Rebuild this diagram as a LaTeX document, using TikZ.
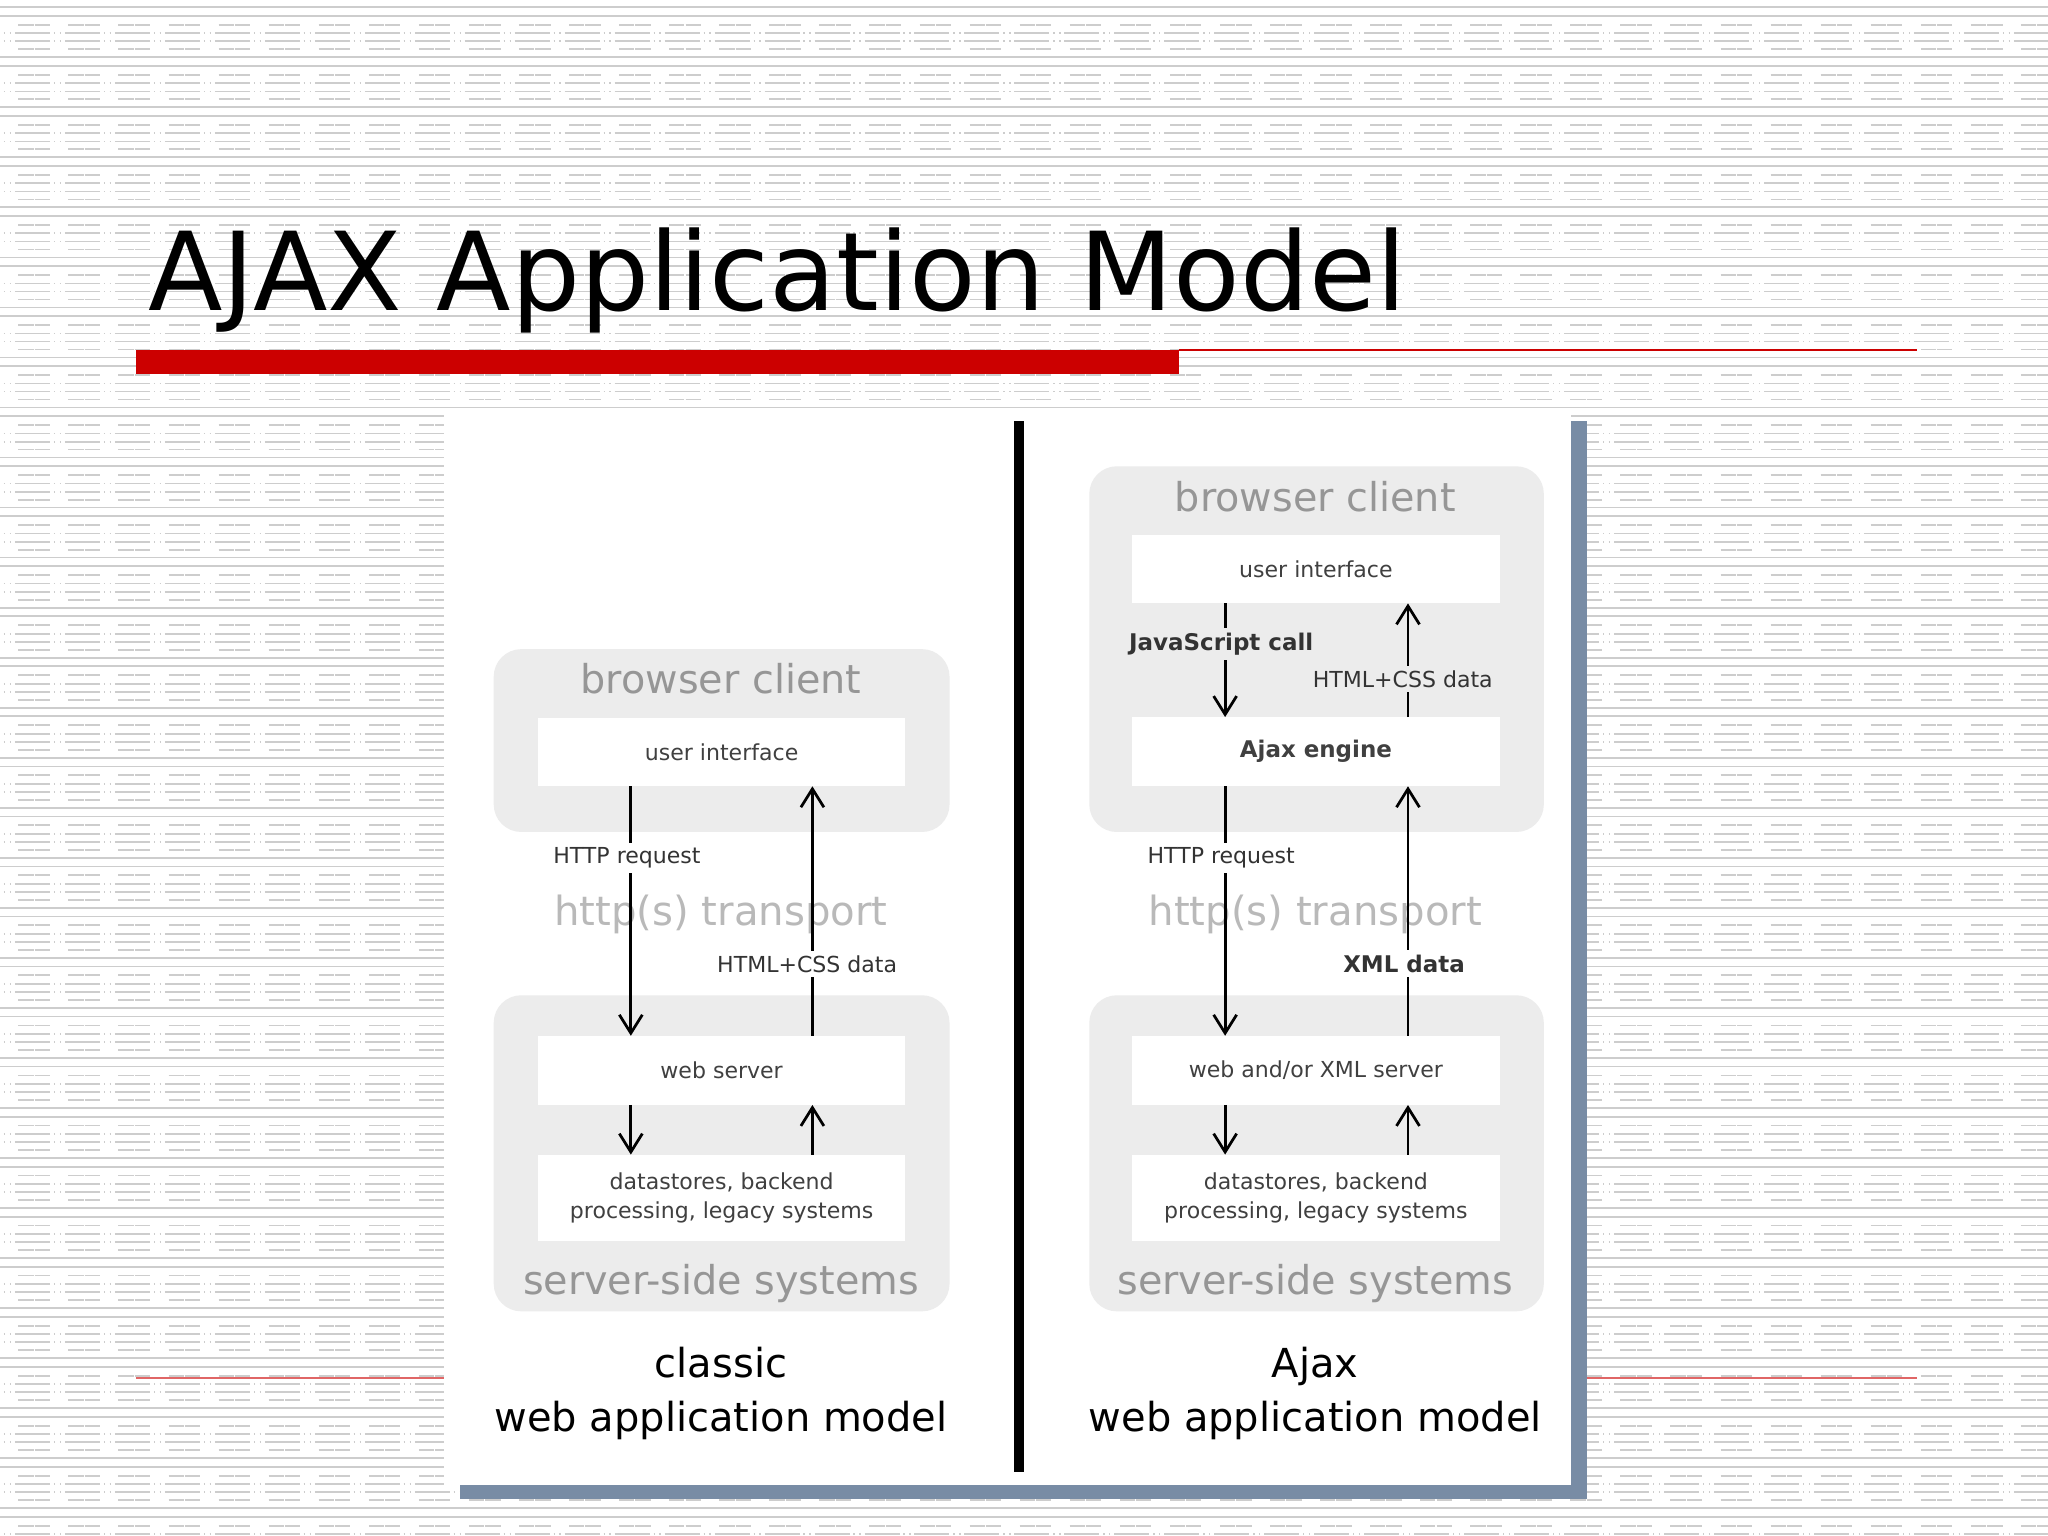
\documentclass[tikz,border=0pt]{standalone}
\usepackage{fontspec}
\setmainfont{DejaVu Sans}
\usetikzlibrary{arrows.meta}
\definecolor{pat}{RGB}{205,205,205}
\definecolor{boxg}{RGB}{236,236,236}
\definecolor{tg}{RGB}{150,150,150}
\definecolor{tlg}{RGB}{185,185,185}
\definecolor{redb}{RGB}{204,0,0}
\definecolor{blueb}{RGB}{120,140,165}
\tikzset{
  solidl/.style={pat,line width=0.4pt},
  dashl/.style={pat,line width=0.4pt,dash pattern=on 3.33pt off 0.23pt on 3.33pt off 4.01pt},
  dotl/.style={pat,line width=0.4pt,dash pattern=on 7.62pt off 0.85pt on 0.28pt off 1.0pt on 0.28pt off 0.85pt},
  grp/.style={fill=boxg,rounded corners=6pt},
  wbox/.style={fill=white,draw=none,minimum width=2.81cm,inner sep=0pt,font=\fontsize{4.8}{6.4}\selectfont,text=black!75,align=center},
  gtitle/.style={text=tg,font=\fontsize{8.65}{10}\selectfont},
  ttitle/.style={text=tlg,font=\fontsize{8.75}{10}\selectfont},
  lbl/.style={font=\fontsize{4.8}{6}\selectfont,text=black!80,inner sep=1pt},
  arr/.style={line width=0.6pt,-{Straight Barb[length=4pt,width=5pt]}},
  captxt/.style={font=\fontsize{8.7}{11.8}\selectfont,align=center,text=black}
}
\begin{document}
\begin{tikzpicture}[x=0.01cm,y=-0.01cm]
\useasboundingbox (0,0) rectangle (1568,1176);
\fill[white] (0,0) rectangle (1568,1176);
\foreach \k in {-1,...,31}{
  \pgfmathsetmacro\yy{\k*38.3}
  \draw[solidl] (0,\yy+5.6) -- (1568,\yy+5.6);
  \draw[solidl] (0,\yy+12.3) -- (1568,\yy+12.3);
  \draw[dashl] (-24.3,\yy+19.1) -- (1600,\yy+19.1);
  \draw[dotl] (-26.8,\yy+25.5) -- (1600,\yy+25.5);
  \draw[dotl] (-26.8,\yy+31.7) -- (1600,\yy+31.7);
  \draw[dashl] (-24.3,\yy+37.8) -- (1600,\yy+37.8);
}
% title
\node[anchor=base west,inner sep=0pt,font=\fontsize{23.7}{26}\selectfont] (title) at (113,238) {AJAX Application Model};
\fill[redb] (104,268) rectangle (903,286);
\draw[redb,line width=0.5pt] (903,268) -- (1468,268);
\draw[redb!60,line width=0.4pt] (104,1055) -- (340,1055);
\draw[redb!60,line width=0.4pt] (1215,1055) -- (1468,1055);
% panel
\fill[blueb] (352,322) rectangle (1215,1148);
\fill[white] (340,313) rectangle (1203,1137);
\fill[black] (776,322) rectangle (784,1127);
% ---------- classic
\fill[grp] (378,497) rectangle (727,637);
\node[gtitle] (cbc) at (552,520) {browser client};
\node[wbox,minimum height=0.52cm] (cui) at (552.5,576) {user interface};
\fill[grp] (378,762) rectangle (727,1004);
\node[wbox,minimum height=0.53cm] (cws) at (552.5,819.5) {web server};
\node[wbox,minimum height=0.66cm] (cds) at (552.5,917) {datastores, backend\\processing, legacy systems};
\node[gtitle] (css) at (552,983) {server-side systems};
\node[ttitle] (ctr) at (552,700) {http(s) transport};
\coordinate (c1) at (483,602); \coordinate (c2) at (483,793);
\coordinate (c3) at (622,793); \coordinate (c4) at (622,602);
\draw[arr] (c1) -- (c2);
\draw[arr] (c3) -- (c4);
\node[lbl,fill=white] (chr) at (480,657) {HTTP request};
\node[lbl,fill=white] (chc) at (618,738) {HTML+CSS data};
\coordinate (c5) at (483,846); \coordinate (c6) at (483,884);
\coordinate (c7) at (622,884); \coordinate (c8) at (622,846);
\draw[arr] (c5) -- (c6);
\draw[arr] (c7) -- (c8);
\node[captxt] (ccap) at (552,1067) {classic\\web application model};
% ---------- Ajax
\fill[grp] (834,357) rectangle (1182,637);
\node[gtitle] (abc) at (1007,380) {browser client};
\node[wbox,minimum height=0.52cm] (aui) at (1007.5,436) {user interface};
\node[wbox,minimum height=0.53cm,font=\fontsize{5.0}{6.5}\selectfont\bfseries] (aeng) at (1007.5,575.5) {Ajax engine};
\coordinate (a1) at (938,462); \coordinate (a2) at (938,549);
\coordinate (a3) at (1078,549); \coordinate (a4) at (1078,462);
\draw[arr] (a1) -- (a2);
\draw[arr] (a3) -- (a4);
\node[lbl,fill=boxg,font=\fontsize{5.0}{6}\selectfont\bfseries] (ajs) at (935,493) {JavaScript call};
\node[lbl,fill=boxg] (ahc) at (1074,520) {HTML+CSS data};
\fill[grp] (834,762) rectangle (1182,1004);
\node[wbox,minimum height=0.53cm] (aws) at (1007.5,819.5) {web and/or XML server};
\node[wbox,minimum height=0.66cm] (ads) at (1007.5,917) {datastores, backend\\processing, legacy systems};
\node[gtitle] (ass) at (1007,983) {server-side systems};
\node[ttitle] (atr) at (1007,700) {http(s) transport};
\coordinate (a5) at (938,602); \coordinate (a6) at (938,793);
\coordinate (a7) at (1078,793); \coordinate (a8) at (1078,602);
\draw[arr] (a5) -- (a6);
\draw[arr] (a7) -- (a8);
\node[lbl,fill=white] (ahr) at (935,657) {HTTP request};
\node[lbl,fill=white,font=\fontsize{5.0}{6}\selectfont\bfseries] (axd) at (1075,738) {XML data};
\coordinate (a9) at (938,846); \coordinate (a10) at (938,884);
\coordinate (a11) at (1078,884); \coordinate (a12) at (1078,846);
\draw[arr] (a9) -- (a10);
\draw[arr] (a11) -- (a12);
\node[captxt] (acap) at (1007,1067) {Ajax\\web application model};
\end{tikzpicture}
\end{document}
